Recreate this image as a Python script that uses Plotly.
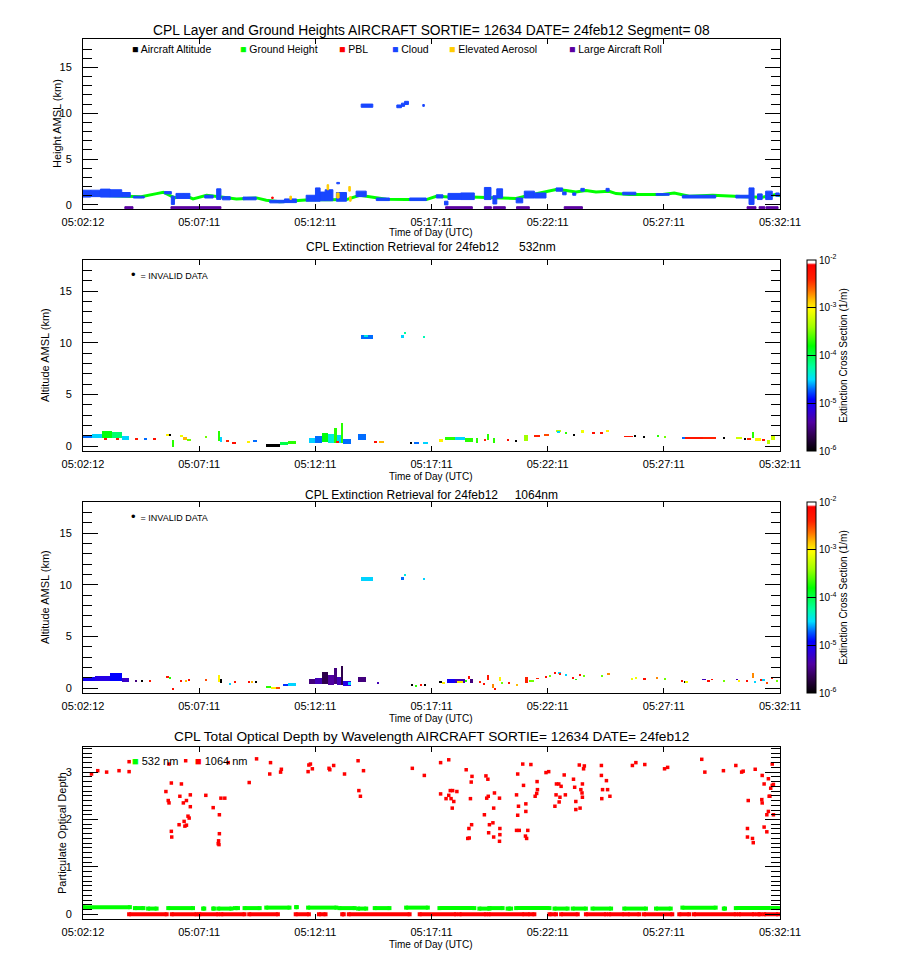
import numpy as np
import plotly.graph_objects as go

W, H = 900, 970
DESL = 8  # margem padrao do <body> da pagina, em pixels

# Tempo em segundos desde 05:02:12 (fim do segmento em 05:32:11)
T_FIM = 1799
ROTULOS_TEMPO = ['05:02:12', '05:07:11', '05:12:11', '05:17:11', '05:22:11', '05:27:11', '05:32:11']

# ---- Painel 1: alturas de camadas e do solo ----
solo_t = [0, 60, 121, 150, 190, 207, 237, 260, 284, 319, 362, 396, 448, 473, 508, 530, 559, 594,
          637, 680, 714, 748, 783, 834, 886, 912, 945, 980, 1023, 1060, 1092, 1118, 1152, 1195,
          1221, 1247, 1272, 1298, 1324, 1358, 1376, 1410, 1453, 1496, 1526, 1565, 1625, 1668,
          1711, 1753, 1788, 1799]
solo_h = [1.1, 1.05, 1.0, 0.9, 1.23, 1.38, 0.76, 1.1, 0.65, 1.05, 0.83, 0.65, 0.76, 0.5, 0.33,
          0.38, 0.5, 0.6, 0.55, 0.58, 1.05, 0.83, 0.62, 0.58, 0.58, 0.94, 0.85, 0.9, 0.83, 0.8,
          0.76, 0.69, 1.05, 1.41, 1.67, 1.56, 1.41, 1.56, 1.41, 1.49, 1.23, 1.12, 1.12, 1.12,
          1.3, 0.94, 1.05, 1.01, 0.9, 0.83, 1.12, 1.0]

# (inicio, fim, base km, topo km)
nuvem = [(0, 20, 0.85, 1.6), (20, 45, 0.9, 1.6), (45, 70, 0.85, 1.72), (70, 100, 0.85, 1.65),
         (100, 122, 0.85, 1.35), (130, 158, 0.75, 0.95), (210, 228, 1.2, 1.45), (228, 236, 0.05, 0.95),
         (240, 276, 0.7, 1.25), (314, 336, 0.75, 1.05), (345, 356, 0.6, 1.75), (360, 380, 0.55, 0.9),
         (413, 447, 0.55, 0.85), (482, 520, 0.22, 0.5), (520, 551, 0.25, 0.65), (576, 600, 0.4, 1.05),
         (600, 612, 0.4, 1.85), (612, 625, 0.45, 1.4), (625, 645, 0.45, 1.65), (655, 662, 2.3, 2.45),
         (654, 680, 0.4, 1.35), (705, 731, 0.9, 1.5), (757, 791, 0.47, 0.75), (843, 886, 0.47, 0.75),
         (912, 929, 0.75, 1.1), (933, 942, 0.0, 0.4), (942, 975, 0.6, 1.25), (975, 1010, 0.58, 1.3),
         (1036, 1053, 0.58, 1.9), (1058, 1068, 0.1, 1.0), (1068, 1083, 0.75, 1.75),
         (1118, 1135, 0.22, 0.75), (1139, 1165, 0.75, 1.5), (1165, 1195, 0.75, 1.3),
         (1221, 1238, 1.5, 1.85), (1238, 1247, 1.1, 1.4), (1264, 1272, 1.05, 1.3),
         (1285, 1294, 1.5, 1.8), (1350, 1358, 1.5, 1.8), (1393, 1427, 1.1, 1.38),
         (1479, 1513, 1.05, 1.23), (1547, 1633, 0.75, 1.05), (1685, 1719, 0.75, 1.05),
         (1719, 1732, 0.05, 1.85), (1741, 1753, 0.58, 1.2), (1762, 1779, 0.58, 1.5),
         (1788, 1797, 0.94, 1.3),
         (718, 748, 10.65, 11.0), (810, 822, 10.6, 10.9), (822, 830, 10.75, 11.1),
         (830, 840, 10.95, 11.3), (877, 881, 10.75, 10.95)]
aerossol = [(534, 538, 0.6, 0.95), (630, 634, 1.65, 2.2), (655, 661, 0.75, 1.3),
            (686, 690, 1.5, 2.0), (688, 692, 0.4, 0.9)]
pbl = [(487, 491, 0.7, 0.85)]
rolagem = [(108, 129), (227, 356), (936, 1005), (1036, 1054), (1059, 1090), (1119, 1152),
           (1242, 1289), (1714, 1737), (1745, 1760), (1763, 1794)]

# ---- Paineis 2 e 3: extincao (inicio, fim, base km, topo km, extincao 1/m) ----
ext532 = [
    (0, 22, 0.8, 1.1, 2e-5), (22, 50, 0.75, 1.2, 3e-5), (50, 75, 0.75, 1.45, 1.5e-4),
    (75, 100, 0.75, 1.35, 8e-5), (100, 118, 0.6, 1.0, 3e-5), (55, 62, 0.65, 0.78, 5e-3),
    (85, 92, 0.65, 0.78, 5e-3), (134, 142, 0.6, 0.72, 5e-3), (158, 166, 0.6, 0.72, 2e-5),
    (180, 188, 0.62, 0.72, 6e-3), (214, 228, 1.0, 1.15, 1e-3), (222, 226, 1.05, 1.12, 1e-6),
    (230, 233, -0.05, 0.55, 2e-4), (250, 258, 0.85, 1.1, 8e-4), (258, 268, 0.6, 0.85, 1.5e-3),
    (268, 280, 0.5, 0.7, 3e-4), (317, 321, 0.75, 0.95, 3e-4), (348, 354, 0.5, 1.45, 2e-4),
    (354, 358, 0.4, 0.9, 3e-5), (368, 378, 0.4, 0.55, 4e-3), (385, 396, 0.28, 0.38, 6e-3),
    (422, 432, 0.35, 0.5, 1e-3), (440, 448, 0.45, 0.55, 2e-5), (473, 508, 0.0, 0.15, 1e-6),
    (508, 530, 0.1, 0.4, 1e-4), (530, 550, 0.15, 0.5, 2e-4), (583, 600, 0.3, 0.8, 3e-5),
    (600, 618, 0.3, 1.0, 2e-5), (618, 632, 0.35, 1.3, 1.5e-4), (632, 648, 0.3, 1.2, 4e-5),
    (648, 655, 0.3, 1.7, 2e-4), (655, 668, 0.3, 1.1, 3e-5), (655, 660, 0.3, 0.42, 5e-3),
    (668, 672, 0.3, 2.2, 2e-4), (672, 692, 0.2, 0.7, 2e-5), (710, 731, 0.6, 1.15, 2e-5),
    (752, 760, 0.3, 0.42, 6e-3), (765, 778, 0.3, 0.4, 1.5e-3), (843, 850, 0.15, 0.35, 1e-6),
    (855, 868, 0.2, 0.3, 2e-5), (878, 890, 0.25, 0.35, 3e-5), (920, 930, 0.4, 0.7, 1e-3),
    (935, 960, 0.55, 0.85, 2e-4), (960, 985, 0.6, 0.85, 3e-5), (985, 1006, 0.4, 0.8, 2e-4),
    (1015, 1020, 0.3, 0.8, 2e-4), (1035, 1040, 0.5, 0.6, 4e-3), (1045, 1049, 0.6, 1.2, 2e-4),
    (1060, 1064, 0.3, 0.8, 2e-4), (1094, 1100, 0.55, 0.62, 6e-3), (1116, 1120, 0.45, 0.55, 1e-6),
    (1139, 1148, 0.5, 1.1, 4e-4), (1165, 1180, 0.9, 1.0, 4e-3), (1190, 1204, 1.05, 1.2, 3e-3),
    (1221, 1234, 1.35, 1.6, 5e-4), (1225, 1230, 1.35, 1.45, 3e-5), (1245, 1249, 1.2, 1.35, 2e-4),
    (1266, 1270, 1.05, 1.1, 1e-6), (1285, 1294, 1.3, 1.55, 8e-4), (1315, 1322, 1.2, 1.28, 6e-3),
    (1335, 1341, 1.2, 1.3, 5e-3), (1352, 1357, 1.38, 1.55, 1e-3), (1397, 1420, 0.9, 0.97, 5e-3),
    (1424, 1428, 0.9, 1.0, 1e-6), (1446, 1450, 0.85, 0.92, 1e-6), (1483, 1487, 0.85, 1.05, 2e-4),
    (1500, 1504, 0.8, 0.92, 3e-4), (1547, 1555, 0.7, 0.8, 2e-5), (1555, 1600, 0.7, 0.8, 5e-3),
    (1600, 1633, 0.7, 0.8, 4e-3), (1653, 1657, 0.7, 0.78, 1e-6), (1685, 1700, 0.7, 0.85, 6e-4),
    (1705, 1712, 0.6, 0.75, 1e-6), (1715, 1725, 0.65, 0.8, 4e-3), (1727, 1730, 0.8, 1.4, 2e-4),
    (1735, 1750, 0.5, 0.8, 1e-3), (1752, 1760, 0.55, 0.7, 6e-3), (1765, 1772, 0.2, 0.6, 5e-4),
    (1775, 1785, 0.6, 1.1, 6e-4),
    (718, 748, 10.4, 10.7, 2e-5), (725, 735, 10.6, 10.75, 4e-5), (820, 828, 10.5, 10.75, 3e-5),
    (828, 834, 10.8, 11.0, 6e-5), (879, 883, 10.45, 10.65, 5e-5)]

ext1064 = [
    (0, 30, 0.7, 1.05, 1e-5), (30, 70, 0.65, 1.2, 8e-6), (70, 100, 0.65, 1.45, 1.2e-5),
    (100, 118, 0.6, 1.0, 6e-6), (134, 140, 0.6, 0.72, 3e-6), (150, 156, 0.6, 0.7, 1e-6),
    (170, 176, 0.6, 0.7, 5e-3), (214, 222, 1.0, 1.1, 5e-3), (222, 228, 0.95, 1.1, 2e-4),
    (230, 233, -0.2, 0.05, 6e-3), (250, 256, 0.6, 0.75, 5e-3), (262, 268, 0.65, 0.8, 1.5e-3),
    (272, 276, 0.7, 0.85, 6e-3), (317, 321, 0.7, 0.85, 3e-3), (348, 354, 0.6, 1.3, 1e-3),
    (354, 358, 0.5, 0.9, 1e-6), (377, 381, 0.3, 0.4, 3e-5), (390, 394, 0.55, 0.65, 5e-3),
    (426, 432, 0.5, 0.6, 6e-3), (436, 440, 0.5, 0.6, 1.5e-3), (446, 450, 0.55, 0.65, 1e-6),
    (473, 485, 0.05, 0.15, 2e-4), (485, 498, 0.0, 0.12, 1e-3), (498, 508, 0.0, 0.12, 3e-3),
    (516, 530, 0.15, 0.35, 1.5e-5), (530, 551, 0.15, 0.5, 3e-5), (583, 600, 0.4, 0.9, 3e-6),
    (600, 618, 0.35, 1.0, 5e-6), (618, 632, 0.4, 1.6, 2e-6), (632, 648, 0.3, 1.3, 4e-6),
    (648, 655, 0.35, 1.9, 3e-6), (655, 668, 0.3, 1.1, 5e-6), (668, 672, 0.3, 2.1, 2e-6),
    (672, 692, 0.2, 0.65, 8e-6), (685, 692, 0.3, 0.6, 3e-5), (710, 731, 0.6, 1.1, 3e-6),
    (759, 763, 0.45, 0.55, 5e-6), (847, 851, 0.2, 0.35, 1e-6), (858, 862, 0.15, 0.3, 2e-4),
    (872, 876, 0.25, 0.32, 6e-3), (882, 886, 0.25, 0.35, 1e-6), (920, 926, 0.45, 0.7, 1e-6),
    (926, 935, 0.35, 0.55, 1e-3), (940, 960, 0.45, 0.87, 1e-5), (960, 985, 0.45, 0.87, 5e-6),
    (965, 980, 0.5, 0.6, 1e-3), (985, 992, 0.6, 0.8, 2e-4), (995, 1000, 0.85, 1.2, 6e-3),
    (1000, 1006, 0.45, 0.85, 3e-6), (1023, 1027, 0.5, 0.6, 4e-3), (1034, 1038, 0.35, 0.45, 6e-3),
    (1044, 1049, 0.8, 1.3, 5e-3), (1058, 1062, 0.0, 0.4, 2e-3), (1062, 1066, -0.15, -0.05, 6e-3),
    (1075, 1079, 0.65, 1.05, 1e-3), (1079, 1083, 0.4, 0.5, 3e-4), (1099, 1103, 0.45, 0.55, 6e-3),
    (1120, 1124, 0.2, 0.4, 1.5e-3), (1143, 1148, 0.5, 1.05, 4e-3), (1150, 1165, 0.65, 0.72, 3e-4),
    (1169, 1178, 0.9, 0.97, 4e-3), (1193, 1197, 1.05, 1.12, 6e-3), (1203, 1207, 1.15, 1.22, 3e-4),
    (1217, 1221, 1.4, 1.47, 6e-3), (1225, 1234, 1.4, 1.55, 3e-5), (1230, 1234, 1.35, 1.42, 5e-3),
    (1245, 1249, 1.2, 1.3, 3e-5), (1264, 1268, 0.95, 1.02, 6e-3), (1272, 1276, 0.8, 0.87, 2e-4),
    (1281, 1285, 1.25, 1.32, 6e-3), (1292, 1296, 1.15, 1.22, 3e-4), (1339, 1343, 1.15, 1.22, 3e-4),
    (1355, 1359, 1.35, 1.42, 2e-3), (1415, 1419, 0.85, 0.92, 8e-4), (1425, 1429, 0.95, 1.02, 8e-4),
    (1445, 1452, 0.85, 0.92, 6e-3), (1481, 1485, 0.95, 1.02, 2e-3), (1500, 1505, 0.85, 0.92, 3e-4),
    (1545, 1549, 0.62, 0.7, 6e-3), (1553, 1556, 0.58, 0.66, 1e-6), (1556, 1561, 0.56, 0.64, 8e-4),
    (1598, 1607, 0.8, 0.87, 5e-6), (1611, 1619, 0.66, 0.73, 6e-3), (1623, 1627, 0.8, 0.87, 6e-3),
    (1652, 1658, 0.66, 0.73, 3e-4), (1687, 1691, 0.8, 0.87, 5e-6), (1691, 1695, 0.66, 0.73, 1e-3),
    (1713, 1717, 0.66, 0.73, 6e-3), (1727, 1732, 1.0, 1.45, 2e-3), (1734, 1738, 0.56, 0.64, 3e-5),
    (1748, 1754, 0.76, 0.83, 6e-3), (1754, 1759, 0.76, 0.83, 3e-5), (1764, 1768, 0.4, 0.55, 3e-3),
    (1777, 1781, 0.9, 1.1, 4e-3), (1790, 1794, 0.66, 0.73, 3e-4),
    (718, 748, 10.4, 10.7, 3e-5), (820, 828, 10.5, 10.75, 2e-5), (828, 834, 10.8, 11.0, 4e-5),
    (879, 883, 10.45, 10.65, 3e-5)]

# ---- Painel 4: profundidade optica ----
# 532 nm: trechos (inicio, fim, valor)
od532 = [(1, 121, 0.15), (134, 156, 0.13), (168, 190, 0.12), (220, 284, 0.13), (310, 313, 0.12),
         (336, 338, 0.12), (349, 383, 0.12), (392, 400, 0.13), (417, 456, 0.13), (473, 533, 0.14),
         (550, 552, 0.15), (581, 654, 0.14), (662, 701, 0.13), (710, 731, 0.12), (753, 791, 0.13),
         (834, 890, 0.14), (920, 1010, 0.13), (1023, 1049, 0.12), (1049, 1083, 0.13),
         (1096, 1105, 0.12), (1118, 1204, 0.13), (1217, 1251, 0.12), (1264, 1298, 0.12),
         (1315, 1363, 0.12), (1397, 1453, 0.12), (1479, 1517, 0.12), (1547, 1633, 0.14),
         (1654, 1657, 0.12), (1685, 1794, 0.13)]
# 1064 nm: trechos proximos de zero e pontos isolados
od1064_zero = [(119, 216, 0.0), (229, 293, 0.0), (300, 349, 0.0), (357, 417, 0.0), (429, 503, 0.0),
               (549, 583, 0.0), (609, 626, 0.0), (669, 673, 0.0), (686, 843, 0.0), (869, 963, 0.0),
               (972, 1040, 0.0), (1047, 1139, 0.0), (1148, 1165, 0.0), (1204, 1221, 0.0),
               (1234, 1277, 0.0), (1298, 1350, 0.0), (1358, 1397, 0.0), (1406, 1436, 0.0),
               (1448, 1521, 0.0), (1539, 1565, 0.0), (1577, 1685, 0.0), (1693, 1732, 0.0),
               (1741, 1749, 0.0), (1758, 1794, 0.0)]
od1064_t = [22, 38, 61, 93, 119, 119, 214, 220, 222, 222, 228, 228, 229, 248, 250, 254, 259, 261,
            263, 267, 267, 265, 271, 274, 277, 277, 317, 336, 349, 350, 351, 352, 352, 356, 366,
            375, 429, 448, 482, 484, 512, 510, 581, 583, 587, 592, 635, 637, 647, 675, 710, 712,
            716, 724, 850, 881, 923, 923, 937, 944, 944, 948, 954, 950, 953, 957, 965, 989, 993,
            997, 996, 1000, 1002, 1003, 1004, 1036, 1040, 1042, 1045, 1046, 1047, 1049,
            1058, 1060, 1060, 1062, 1075, 1075, 1076, 1076, 1119, 1119, 1122, 1122, 1124, 1126,
            1135, 1137, 1142, 1143, 1143, 1145, 1148, 1156, 1167, 1171, 1172, 1173, 1195, 1202,
            1218, 1221, 1222, 1228, 1229, 1231, 1234, 1242, 1245, 1266, 1269, 1272, 1272, 1281,
            1283, 1285, 1288, 1289, 1289, 1292, 1294, 1338, 1338, 1339, 1341, 1351, 1354, 1360,
            1418, 1427, 1450, 1501, 1509, 1597, 1605, 1653, 1685, 1700, 1704, 1715, 1715, 1717,
            1728, 1730, 1735, 1752, 1753, 1753, 1758, 1758, 1765, 1765, 1769, 1769, 1771, 1773,
            1775, 1779, 1779, 1782, 1782]
od1064_v = [2.96, 3.03, 3.00, 3.03, 3.22, 3.01, 2.59, 2.40, 2.35, 3.17, 2.77, 1.75, 1.63, 1.89,
            2.49, 2.75, 2.35, 1.96, 1.86, 1.88, 2.40, 3.24, 2.07, 2.03, 2.52, 2.27, 2.51, 2.25,
            1.49, 1.55, 1.47, 1.70, 2.10, 2.45, 2.45, 3.20, 2.78, 3.28, 2.96, 3.20, 3.06, 3.00,
            3.01, 3.15, 3.17, 3.07, 3.08, 3.05, 3.14, 2.96, 3.24, 2.61, 2.49, 3.03, 3.08, 2.93,
            3.20, 2.54, 2.44, 3.26, 2.51, 2.61, 2.61, 2.44, 2.24, 2.38, 2.59, 3.05, 1.60, 1.61,
            1.81, 2.44, 2.79, 1.89, 2.91, 2.10, 2.92, 2.45, 2.85, 2.49, 1.72, 1.89,
            1.93, 2.24, 1.63, 2.56, 2.45, 1.54, 1.81, 1.68, 2.52, 1.77, 2.96, 2.09, 2.28, 1.77,
            3.17, 2.72, 1.65, 2.33, 2.17, 1.60, 1.77, 3.16, 2.49, 2.55, 2.80, 2.63, 2.99, 3.01,
            2.28, 2.52, 2.75, 2.75, 2.37, 2.47, 2.70, 2.94, 2.52, 2.85, 2.68, 2.38, 2.21, 3.15,
            2.24, 2.63, 2.56, 2.75, 2.47, 3.07, 3.13, 3.14, 2.93, 2.44, 2.63, 2.82, 2.63, 2.49,
            3.14, 3.20, 3.16, 3.07, 3.10, 3.27, 3.00, 3.03, 3.14, 3.00, 3.02, 1.81, 1.63, 2.40,
            1.60, 1.51, 3.06, 2.42, 2.93, 2.35, 2.75, 1.84, 1.74, 2.10, 2.17, 2.86, 2.49, 2.49,
            2.66, 2.72, 3.17, 2.74, 2.10]

# Paleta arco-iris + branco (estilo IDL)
ARCO_IRIS = [[0.0, '#000000'], [0.08, '#300050'], [0.15, '#5000a0'], [0.235, '#2000f0'],
             [0.27, '#0000ff'], [0.32, '#0060ff'], [0.375, '#00e0ff'], [0.44, '#00ffa0'],
             [0.55, '#00ff00'], [0.65, '#a0ff00'], [0.74, '#ffff00'], [0.79, '#ffc000'],
             [0.84, '#ff7000'], [0.9, '#ff2000'], [0.975, '#ff0000'], [0.985, '#ffffff'],
             [1.0, '#ffffff']]

FONTE = 'Liberation Sans'


def px(p):
    # converte pixel horizontal da imagem em coordenada do papel
    return (p - DESL) / W


def py(p):
    # converte pixel vertical da imagem em coordenada do papel
    return 1 - (p - DESL) / H


XDOM = [px(83), px(780)]


def barras(blocos, eixo, coloraxis):
    # blocos coloridos pela extincao (escala log)
    t0, t1, base, topo, ext = [list(c) for c in zip(*blocos)]
    meio = [(a + b) / 2 for a, b in zip(t0, t1)]
    larg = [b - a for a, b in zip(t0, t1)]
    alt = [b - a for a, b in zip(base, topo)]
    marker = dict(color=np.log10(ext), coloraxis=coloraxis, line=dict(width=0))
    return go.Bar(x=meio, y=alt, base=base, width=larg, marker=marker, showlegend=False,
                  xaxis='x' + eixo, yaxis='y' + eixo)


def retangulos(blocos, cor, eixo=''):
    # camadas do painel 1 como poligonos preenchidos (ficam acima da linha do solo)
    xs, ys = [], []
    for t0, t1, base, topo in blocos:
        xs += [t0, t1, t1, t0, t0, None]
        ys += [base, base, topo, topo, base, None]
    return go.Scatter(x=xs, y=ys, mode='lines', fill='toself', fillcolor=cor,
                      line=dict(color=cor, width=1), showlegend=False,
                      xaxis='x' + eixo, yaxis='y' + eixo)


def trechos(segs, cor, eixo, largura=4):
    xs, ys = [], []
    for a, b, v in segs:
        xs += [a, b, None]
        ys += [v, v, None]
    return go.Scatter(x=xs, y=ys, mode='lines+markers', showlegend=False,
                      line=dict(color=cor, width=largura),
                      marker=dict(color=cor, size=4, symbol='square'),
                      xaxis='x' + eixo, yaxis='y' + eixo)


fig = go.Figure()

# Painel 1
fig.add_trace(go.Scatter(x=solo_t, y=solo_h, mode='lines', line=dict(color='#00ff00', width=3),
                         showlegend=False, xaxis='x', yaxis='y'))
fig.add_trace(retangulos(nuvem, '#1846ff'))
fig.add_trace(retangulos(aerossol, '#ffcc00'))
fig.add_trace(retangulos(pbl, '#ff0000'))
fig.add_trace(retangulos([(a, b, -0.42, -0.2) for a, b in rolagem], '#5a00a0'))

# Paineis 2 e 3
fig.add_trace(barras(ext532, '2', 'coloraxis'))
fig.add_trace(barras(ext1064, '3', 'coloraxis2'))

# Painel 4
fig.add_trace(trechos(od532, '#00ff00', '4'))
fig.add_trace(trechos(od1064_zero, '#ff0000', '4'))
fig.add_trace(go.Scatter(x=od1064_t, y=od1064_v, mode='markers', showlegend=False,
                         marker=dict(color='#ff0000', size=3.5, symbol='square'),
                         xaxis='x4', yaxis='y4'))

passo = T_FIM / (len(ROTULOS_TEMPO) - 1)
tickvals = [i * passo for i in range(len(ROTULOS_TEMPO))]


def eixo_x(ancora):
    return dict(domain=XDOM, range=[0, T_FIM], anchor=ancora, tickmode='array',
                tickvals=tickvals, ticktext=ROTULOS_TEMPO, ticks='inside', ticklen=5,
                tickcolor='black', showline=True, linecolor='black', linewidth=1,
                mirror='ticks', showgrid=False, zeroline=False, ticklabelstandoff=3,
                automargin=False, tickfont=dict(family=FONTE, size=11, color='black'))


def eixo_y(ancora, dominio, faixa, dtick, menor):
    return dict(domain=dominio, range=faixa, anchor=ancora, tickmode='linear', tick0=0,
                dtick=dtick, ticks='inside', ticklen=15, tickcolor='black',
                minor=dict(dtick=menor, tick0=0, ticks='inside', ticklen=9, tickcolor='black',
                           showgrid=False),
                showline=True, linecolor='black', linewidth=1, mirror='ticks', showgrid=False,
                zeroline=False, ticklabelstandoff=8, automargin=False,
                tickfont=dict(family=FONTE, size=11, color='black'))


def barra_cor(topo, base):
    return dict(x=px(807), xanchor='left', y=py((topo + base) / 2), yanchor='middle',
                len=(base - topo) / H, lenmode='fraction', thickness=9, xpad=0, ypad=0,
                outlinewidth=1, outlinecolor='black', ticks='inside', ticklen=9,
                tickcolor='black', tickvals=[-6, -5, -4, -3, -2],
                ticktext=['10<sup>-6</sup>', '10<sup>-5</sup>', '10<sup>-4</sup>',
                          '10<sup>-3</sup>', '10<sup>-2</sup>'],
                tickfont=dict(family=FONTE, size=10, color='black'),
                title=dict(text='Extinction Cross Section (1/m)', side='right',
                           font=dict(family=FONTE, size=10, color='black')))


fig.update_layout(
    width=W, height=H, margin=dict(l=0, r=0, t=0, b=0, pad=0, autoexpand=False),
    paper_bgcolor='white', plot_bgcolor='white', barmode='overlay', bargap=0,
    showlegend=False,
    xaxis=eixo_x('y'), yaxis=eixo_y('x', [py(209), py(39)], [-0.45, 18.1], 5, 1),
    xaxis2=eixo_x('y2'), yaxis2=eixo_y('x2', [py(451), py(260)], [-0.48, 18.0], 5, 1),
    xaxis3=eixo_x('y3'), yaxis3=eixo_y('x3', [py(693), py(502)], [-0.48, 18.0], 5, 1),
    xaxis4=eixo_x('y4'), yaxis4=eixo_y('x4', [py(919), py(747)], [-0.1, 3.53], 1, 0.1),
    coloraxis=dict(colorscale=ARCO_IRIS, cmin=-6, cmax=-2, colorbar=barra_cor(260, 451)),
    coloraxis2=dict(colorscale=ARCO_IRIS, cmin=-6, cmax=-2, colorbar=barra_cor(502, 693)),
)


def texto(txt, x, y, tam=11, xanchor='center', angulo=0):
    fig.add_annotation(text=txt, x=px(x), y=py(y), xref='paper', yref='paper',
                       xanchor=xanchor, yanchor='middle', showarrow=False, textangle=angulo,
                       borderpad=0, font=dict(family=FONTE, size=tam, color='black'))


esp = '&nbsp;' * 6
texto('CPL Layer and Ground Heights AIRCRAFT SORTIE= 12634 DATE= 24feb12 Segment= 08', 431, 30, 13.8)
texto('CPL Extinction Retrieval for 24feb12' + esp + '532nm', 431, 246.5, 12)
texto('CPL Extinction Retrieval for 24feb12' + esp[:-6] + '1064nm', 431, 494.5, 12)
texto('CPL Total Optical Depth by Wavelength AIRCRAFT SORTIE= 12634 DATE= 24feb12', 431, 736, 13.7)

for y in [232, 476.5, 718.5, 944]:
    texto('Time of Day (UTC)', 431, y, 10)

texto('Height AMSL (km)', 57, 124, 11, angulo=-90)
texto('Altitude AMSL (km)', 45, 355, 11, angulo=-90)
texto('Altitude AMSL (km)', 45, 597, 11, angulo=-90)
texto('Particulate Optical Depth', 62, 833, 11, angulo=-90)

# Legenda do painel 1
legenda1 = [('Aircraft Altitude', '#000000', 131), ('Ground Height', '#00ff00', 239),
            ('PBL', '#ff0000', 338), ('Cloud', '#1846ff', 391),
            ('Elevated Aerosol', '#ffcc00', 448), ('Large Aircraft Roll', '#5a00a0', 568)]
for nome, cor, x in legenda1:
    texto(f'<span style="color:{cor}">■</span> {nome}', x, 49, 10.5, xanchor='left')

ponto = '<span style="font-size:13px">•</span> &nbsp;= INVALID DATA'
texto(ponto, 130, 274, 9, xanchor='left')
texto(ponto, 130, 516, 9, xanchor='left')

texto('<span style="color:#00ff00">■</span> 532 nm', 131, 761, 11, xanchor='left')
texto('<span style="color:#ff0000">■</span> 1064 nm', 194, 761, 11, xanchor='left')

fig.write_html('out.html')
